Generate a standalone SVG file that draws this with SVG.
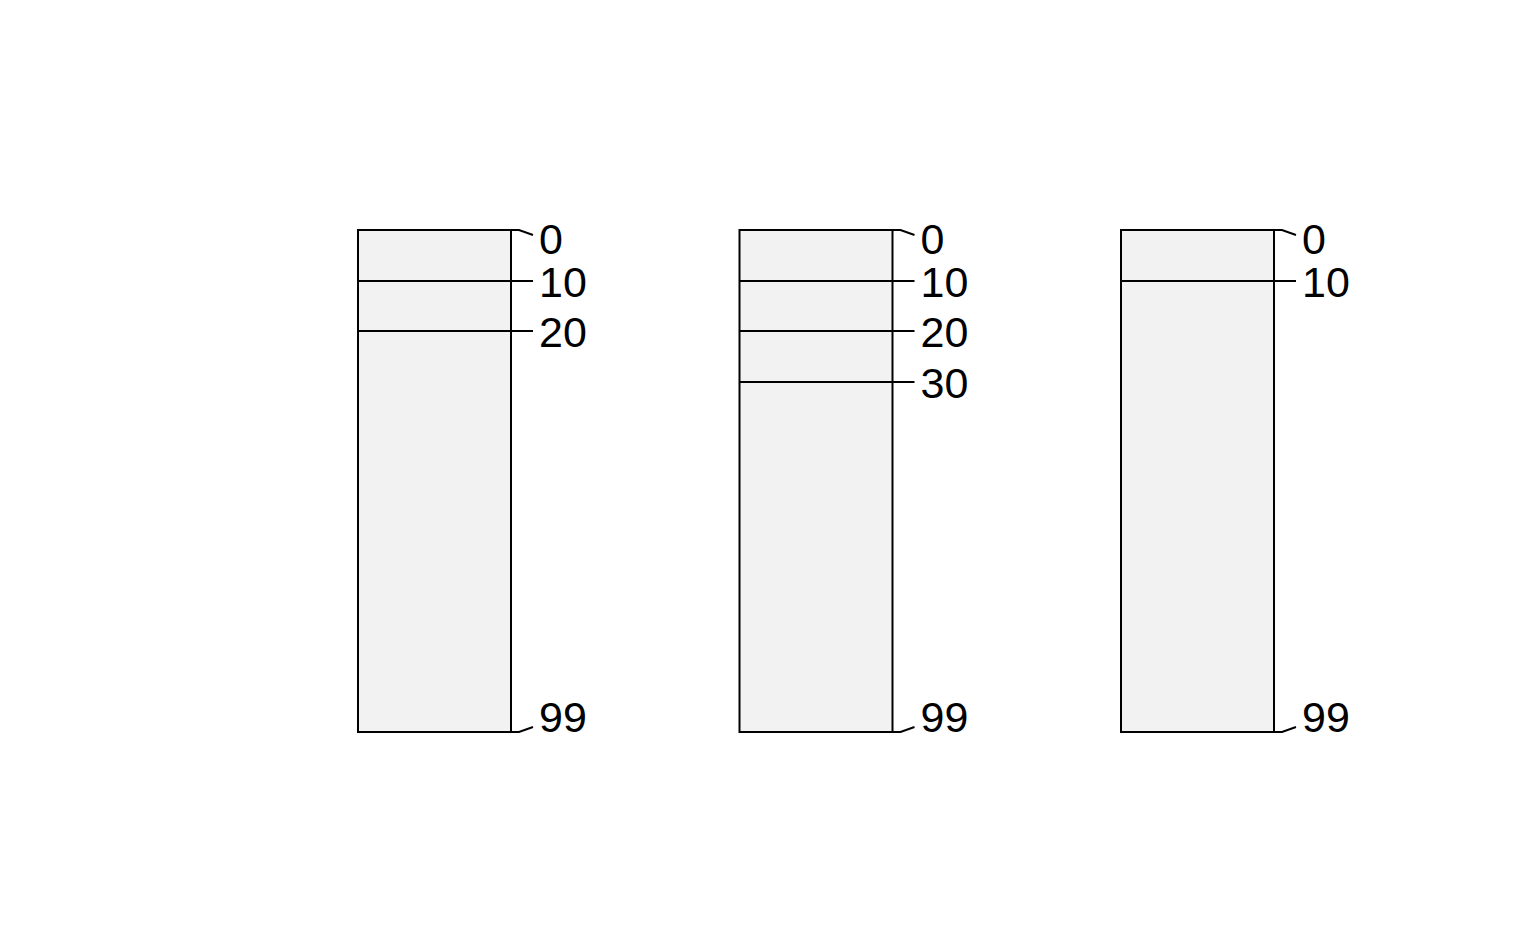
<svg xmlns="http://www.w3.org/2000/svg" width="1536" height="950" viewBox="0 0 1536 950">
<style>
.bar{fill:#f2f2f2;stroke:#000;stroke-width:2}
.ln{fill:none;stroke:#000;stroke-width:2}
.lb{font-family:"Liberation Sans",Arial,sans-serif;font-size:43px;fill:#000}
</style>
<rect width="1536" height="950" fill="#fff"/>
<g id="col1">
<rect class="bar" x="358" y="230" width="153" height="502"/>
<line class="ln" x1="358" y1="281" x2="533" y2="281"/>
<line class="ln" x1="358" y1="331" x2="533" y2="331"/>
<polyline class="ln" points="511,230 519,230 533,235"/>
<polyline class="ln" points="511,732 519,732 533,727"/>
<text class="lb" x="539" y="254">0</text>
<text class="lb" x="539" y="297">10</text>
<text class="lb" x="539" y="347">20</text>
<text class="lb" x="539" y="732">99</text>
</g>
<g id="col2">
<rect class="bar" x="739.5" y="230" width="153" height="502"/>
<line class="ln" x1="739.5" y1="281" x2="914.5" y2="281"/>
<line class="ln" x1="739.5" y1="331" x2="914.5" y2="331"/>
<line class="ln" x1="739.5" y1="382" x2="914.5" y2="382"/>
<polyline class="ln" points="892.5,230 900.5,230 914.5,235"/>
<polyline class="ln" points="892.5,732 900.5,732 914.5,727"/>
<text class="lb" x="920.5" y="254">0</text>
<text class="lb" x="920.5" y="297">10</text>
<text class="lb" x="920.5" y="347">20</text>
<text class="lb" x="920.5" y="398">30</text>
<text class="lb" x="920.5" y="732">99</text>
</g>
<g id="col3">
<rect class="bar" x="1121" y="230" width="153" height="502"/>
<line class="ln" x1="1121" y1="281" x2="1296" y2="281"/>
<polyline class="ln" points="1274,230 1282,230 1296,235"/>
<polyline class="ln" points="1274,732 1282,732 1296,727"/>
<text class="lb" x="1302" y="254">0</text>
<text class="lb" x="1302" y="297">10</text>
<text class="lb" x="1302" y="732">99</text>
</g>
<g id="connectors"></g>
</svg>
